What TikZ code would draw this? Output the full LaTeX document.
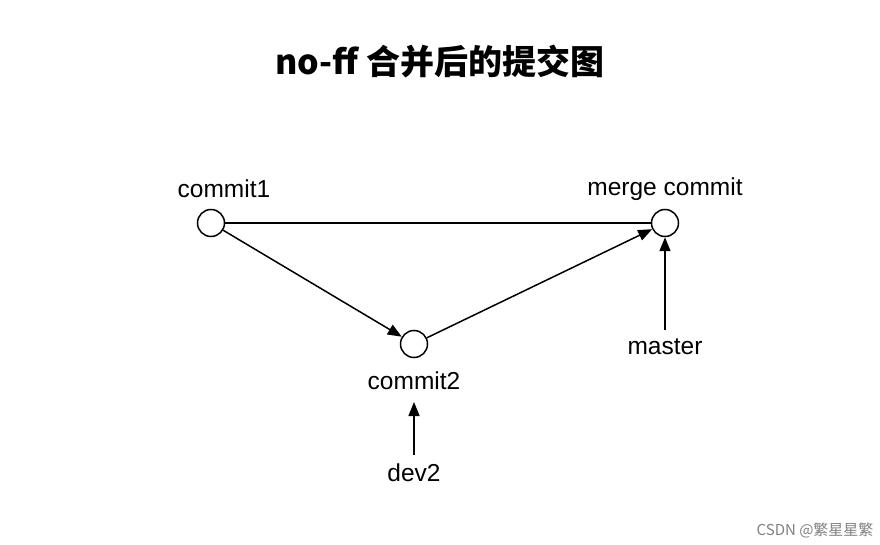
\documentclass[tikz,border=0pt]{standalone}
\usepackage{fontspec}
\setmainfont{Liberation Sans}
\newfontfamily\cjk{Noto Sans CJK SC}
\usetikzlibrary{arrows.meta}
\begin{document}
\begin{tikzpicture}[x=1pt,y=-1pt,
  c/.style={circle,draw,line width=1.5pt,minimum size=27pt,inner sep=0pt},
  lbl/.style={font=\fontsize{24.5}{28}\selectfont},
  ar/.style={line width=1.5pt,-{Triangle[length=14pt,width=11pt]}}]
\useasboundingbox (0,0) rectangle (880,545);
\node[font=\cjk\bfseries\fontsize{34}{38}\selectfont] (t) at (440,62) {no-ff 合并后的提交图};
\node[c] (c1) at (211,223) {};
\node[c] (m) at (665,223) {};
\node[c] (c2) at (414,344) {};
\node[lbl] (l1) at (224,189) {commit1};
\node[lbl] (lm) at (665,189) {merge commit};
\node[lbl] (l2) at (414,381) {commit2};
\node[lbl] (ms) at (665,347) {master};
\node[lbl] (d2) at (414,473) {dev2};
\draw[line width=1.5pt] (c1) -- (m);
\draw[ar] (c1) -- (c2);
\draw[ar] (c2) -- (m);
\coordinate (ms1) at (665,330);
\draw[ar] (ms1) -- (m);
\coordinate (d21) at (414,455);
\coordinate (d22) at (414,402);
\draw[ar] (d21) -- (d22);
\node[text=gray,font=\cjk\fontsize{15}{17}\selectfont,anchor=east] (w) at (877,530) {CSDN @繁星星繁};
\end{tikzpicture}
\end{document}
